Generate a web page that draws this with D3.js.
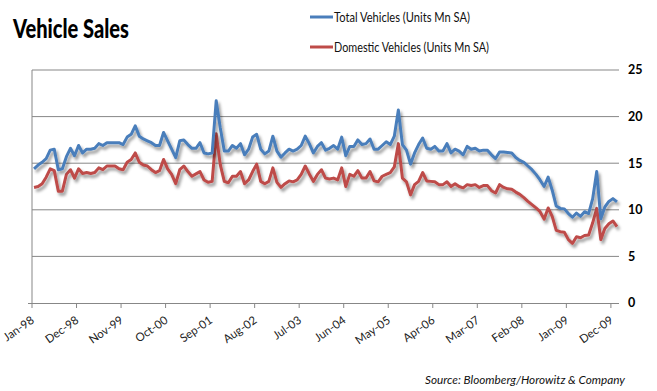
<!DOCTYPE html>
<html>
<head>
<meta charset="utf-8">
<script src="https://cdn.jsdelivr.net/npm/d3@7"></script>
<style>
  body { margin: 0; background: #fff; }
  svg { display: block; }
</style>
</head>
<body>
<div id="chart"></div>
<script>
// monthly, Jan-98 .. Jan-10
var months = d3.timeMonth.range(new Date(1998, 0, 1), new Date(2010, 1, 1));

var totalVehicles = [
  14.4, 14.8, 15.1, 15.5, 16.4, 16.5, 14.3, 14.4, 15.7, 16.6, 15.8, 16.9,
  16.1, 16.5, 16.5, 16.6, 17.1, 16.9, 17.2, 17.2, 17.2, 17.2, 17.0, 17.8,
  18.1, 19.0, 17.9, 17.6, 17.4, 17.2, 16.9, 16.9, 18.3, 17.4, 16.5, 15.6,
  17.4, 17.5, 17.0, 16.6, 16.6, 17.2, 16.1, 16.0, 16.1, 21.7, 18.8, 16.3,
  16.3, 16.9, 16.6, 17.1, 15.9, 16.5, 17.8, 18.1, 16.5, 16.0, 16.3, 17.9,
  16.3, 15.65, 16.1, 16.5, 16.3, 16.5, 16.9, 17.9, 17.1, 16.1, 16.8, 17.2,
  16.4, 16.6, 16.9, 16.5, 17.8, 15.8, 16.8, 16.8, 17.5, 17.0, 17.1, 17.6,
  16.5, 16.5, 16.9, 17.3, 17.0, 17.9, 20.7, 17.0, 16.4, 14.9, 16.1, 17.0,
  17.7, 16.6, 16.5, 16.8, 16.3, 16.3, 17.1, 16.1, 16.5, 16.3, 15.9, 16.8,
  16.5, 16.6, 16.3, 16.4, 16.4, 15.9, 15.5, 16.2, 16.2, 16.15, 16.1, 15.6,
  15.3, 15.1, 14.7, 14.3, 13.8, 13.2, 12.5, 13.5, 12.1, 10.4, 10.15, 10.1,
  9.6, 9.2, 9.65, 9.3, 9.8, 9.6, 11.2, 14.1, 9.05, 10.3, 10.9, 11.2,
  10.85
];

var domesticVehicles = [
  12.4, 12.5, 12.8, 13.5, 14.4, 14.2, 12.0, 12.0, 13.8, 14.3, 13.4, 14.4,
  13.9, 14.0, 13.9, 14.0, 14.5, 14.3, 14.7, 14.7, 14.7, 14.4, 14.3, 15.1,
  15.4, 16.1, 15.1, 14.8, 14.7, 14.3, 14.0, 14.2, 15.4, 14.4, 13.8, 12.8,
  14.3, 14.7, 14.1, 13.6, 13.85, 14.1, 13.2, 12.95, 13.05, 18.15, 14.85, 13.05,
  12.9, 13.6, 13.6, 14.1, 12.8, 13.2, 14.1, 14.9, 13.05, 12.8, 13.05, 14.5,
  12.95, 12.4, 12.8, 13.1, 13.0, 13.2, 13.8, 14.7, 13.85, 13.05, 13.8, 14.3,
  13.4, 13.3, 13.4, 13.2, 14.5, 12.5, 13.8, 13.6, 14.2, 13.4, 13.4, 14.1,
  13.1, 13.0, 13.6, 13.8, 14.0, 14.6, 17.1, 13.4, 13.0, 11.6, 12.7, 13.05,
  14.0, 13.1, 13.05, 13.0, 12.7, 12.7, 13.0, 12.5, 12.8, 12.5, 12.35, 12.7,
  12.6, 12.7, 12.4, 12.6, 12.6, 12.05, 11.8, 12.7, 12.4, 12.25, 12.2, 11.9,
  11.65, 11.3, 10.9, 10.55, 10.2, 9.8, 9.0, 10.2, 9.3, 7.8, 7.65, 7.6,
  6.8, 6.4, 7.1, 7.0, 7.25, 7.3, 8.6, 10.15, 6.8, 8.0, 8.5, 8.8,
  8.2
];

var tickLabels = ["Jan-98", "Dec-98", "Nov-99", "Oct-00", "Sep-01", "Aug-02", "Jul-03",
  "Jun-04", "May-05", "Apr-06", "Mar-07", "Feb-08", "Jan-09", "Dec-09"];
var tickEvery = 11;
var yTicks = [0, 5, 10, 15, 20, 25];
var seriesNames = ["Total Vehicles (Units Mn SA)", "Domestic Vehicles (Units Mn SA)"];
var seriesColors = ["#4a7ebb", "#be4b48"];

var width = 657, height = 391;
var margin = { top: 70, right: 38, bottom: 88, left: 32 };
var innerW = width - margin.left - margin.right;
var innerH = height - margin.top - margin.bottom;

var svg = d3.select("#chart").append("svg")
  .attr("width", width)
  .attr("height", height);

var defs = svg.append("defs");
var shadow = defs.append("filter").attr("id", "shadow")
  .attr("x", "-5%").attr("y", "-10%").attr("width", "110%").attr("height", "130%");
shadow.append("feDropShadow")
  .attr("dx", 2).attr("dy", 3).attr("stdDeviation", 1.8)
  .attr("flood-color", "#000").attr("flood-opacity", 0.4);

var g = svg.append("g")
  .attr("transform", "translate(" + margin.left + "," + margin.top + ")");

var x = d3.scaleBand().domain(d3.range(months.length)).range([0, innerW]).padding(0);
var y = d3.scaleLinear().domain([0, 25]).range([innerH, 0]);

// gridlines
g.append("g")
  .selectAll("line")
  .data(yTicks.filter(function (d) { return d > 0; }))
  .enter().append("line")
  .attr("x1", 0).attr("x2", innerW)
  .attr("y1", function (d) { return y(d); })
  .attr("y2", function (d) { return y(d); })
  .attr("stroke", "#878787")
  .attr("stroke-width", 1);

// right-side value labels
g.append("g")
  .selectAll("text")
  .data(yTicks)
  .enter().append("text")
  .attr("x", innerW + 9)
  .attr("y", function (d) { return y(d); })
  .attr("dy", "0.35em")
  .attr("font-family", "Lato, 'Open Sans', sans-serif")
  .attr("font-weight", "bold")
  .attr("font-size", 12.5)
  .attr("fill", "#000")
  .text(function (d) { return d; });

// left axis line
g.append("line")
  .attr("x1", 0).attr("x2", 0).attr("y1", 0).attr("y2", innerH)
  .attr("stroke", "#878787");

// x axis
var tickIdx = d3.range(0, months.length, tickEvery);
var xAxis = d3.axisBottom(x)
  .tickValues(tickIdx)
  .tickSize(5)
  .tickFormat(function (d, i) { return tickLabels[i]; });

var ax = g.append("g")
  .attr("transform", "translate(0," + innerH + ")")
  .call(xAxis);
ax.select(".domain").attr("stroke", "#878787").attr("d", "M-4,0.5H" + innerW);
ax.selectAll(".tick line")
  .attr("stroke", "#878787")
  .attr("transform", function () { return "translate(" + (-x.bandwidth() / 2) + ",0)"; });
ax.selectAll(".tick text")
  .attr("font-family", "Lato, 'Open Sans', sans-serif")
  .attr("font-size", 11.5)
  .attr("fill", "#222")
  .attr("text-anchor", "end")
  .attr("y", 0).attr("dy", 0)
  .attr("transform", "translate(1,19) rotate(-35)");

// lines
var line = d3.line()
  .x(function (d, i) { return x(i) + x.bandwidth() / 2; })
  .y(function (d) { return y(d); });

[domesticVehicles, totalVehicles].forEach(function (series, k) {
  g.append("path")
    .datum(series)
    .attr("fill", "none")
    .attr("stroke", seriesColors[1 - k])
    .attr("stroke-width", 3)
    .attr("stroke-linejoin", "round")
    .attr("filter", "url(#shadow)")
    .attr("d", line);
});

// title
svg.append("text")
  .attr("x", 13).attr("y", 38)
  .attr("font-family", "Lato, 'Open Sans', sans-serif")
  .attr("font-weight", 900)
  .attr("font-size", 27)
  .attr("textLength", 116)
  .attr("lengthAdjust", "spacingAndGlyphs")
  .text("Vehicle Sales");

// legend
var legendW = [136, 155];
seriesNames.forEach(function (name, k) {
  var ly = 17 + k * 30;
  svg.append("line")
    .attr("x1", 310).attr("x2", 333)
    .attr("y1", ly).attr("y2", ly)
    .attr("stroke", seriesColors[k])
    .attr("stroke-width", 3);
  svg.append("text")
    .attr("x", 334).attr("y", ly)
    .attr("dy", "0.35em")
    .attr("font-family", "Lato, 'Open Sans', sans-serif")
    .attr("font-size", 14)
    .attr("textLength", legendW[k])
    .attr("lengthAdjust", "spacingAndGlyphs")
    .attr("fill", "#111")
    .text(name);
});

// source note
svg.append("text")
  .attr("x", 625).attr("y", 384)
  .attr("text-anchor", "end")
  .attr("font-family", "Lato, 'Open Sans', sans-serif")
  .attr("font-style", "italic")
  .attr("font-size", 12)
  .attr("textLength", 200)
  .attr("lengthAdjust", "spacingAndGlyphs")
  .attr("fill", "#111")
  .text("Source: Bloomberg/Horowitz & Company");
</script>
</body>
</html>
